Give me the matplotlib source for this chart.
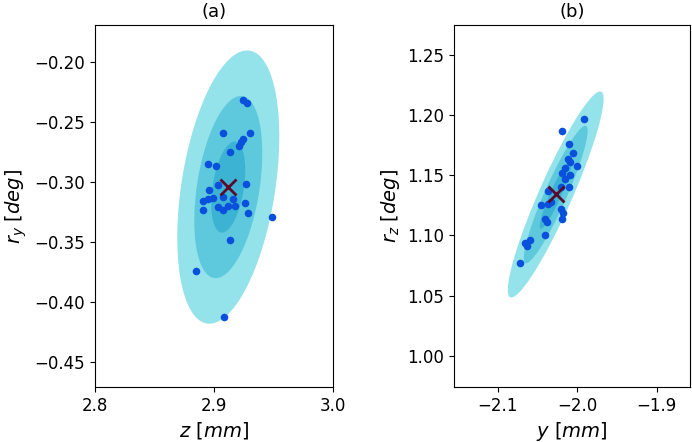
import numpy as np
import matplotlib
matplotlib.use("Agg")
import matplotlib.pyplot as plt
from matplotlib.patches import Ellipse

# Panel (a): z [mm] vs r_y [deg]
a_z = [2.9241, 2.9275, 2.9076, 2.9303, 2.9246, 2.9229, 2.9212, 2.9134, 2.8952, 2.9017,
       2.9036, 2.9267, 2.8958, 2.9078, 2.8994, 2.8952, 2.8905, 2.9163, 2.8910, 2.9034,
       2.9073, 2.9115, 2.9174, 2.9261, 2.9286, 2.9485, 2.9134, 2.8849, 2.9081]
a_ry = [-0.2319, -0.2343, -0.2588, -0.2592, -0.2642, -0.2669, -0.2697, -0.2747, -0.2850, -0.2869,
        -0.3022, -0.3019, -0.3069, -0.3125, -0.3130, -0.3142, -0.3158, -0.3144, -0.3236, -0.3211,
        -0.3236, -0.3203, -0.3200, -0.3178, -0.3256, -0.3288, -0.3486, -0.3742, -0.4128]
a_mean = (2.9120, -0.3042)
a_sigma = (0.01429, 0.0380)
a_rho = 0.37

# Panel (b): y [mm] vs r_z [deg]
b_y = [-1.9915, -2.0191, -2.0107, -2.0049, -2.0112, -2.0090, -1.9999, -2.0150, -2.0191, -2.0090,
       -2.0150, -2.0203, -2.0107, -2.0366, -2.0457, -2.0366, -2.0323, -2.0208, -2.0182, -2.0195,
       -2.0400, -2.0383, -2.0408, -2.0593, -2.0652, -2.0627, -2.0715]
b_rz = [1.1965, 1.1868, 1.1763, 1.1688, 1.1632, 1.1610, 1.1574, 1.1560, 1.1516, 1.1499,
        1.1466, 1.1402, 1.1399, 1.1366, 1.1257, 1.1265, 1.1276, 1.1216, 1.1188, 1.1133,
        1.1138, 1.1110, 1.1007, 1.0965, 1.0938, 1.0913, 1.0774]
b_mean = (-2.0270, 1.1341)
b_sigma = (0.0201, 0.02856)
b_rho = 0.925

levels = [3, 2, 1]
level_colors = ['#94e2ea', '#5ec8dc', '#3cb3d3']
point_color = '#0a50dc'
mean_color = '#5a0a2c'

fig = plt.figure(figsize=(6.92, 4.42), dpi=100)
axA = fig.add_axes([95/692, 1-387/442, 238/692, 362/442])
axB = fig.add_axes([454/692, 1-387/442, 236/692, 362/442])


def draw(ax, xs, ys, mean, sigma, rho):
    sx, sy = sigma
    cov = np.array([[sx*sx, rho*sx*sy], [rho*sx*sy, sy*sy]])
    vals, vecs = np.linalg.eigh(cov)
    order = vals.argsort()[::-1]
    vals, vecs = vals[order], vecs[:, order]
    ang = np.degrees(np.arctan2(vecs[1, 0], vecs[0, 0]))
    for n, c in zip(levels, level_colors):
        e = Ellipse(mean, 2*n*np.sqrt(vals[0]), 2*n*np.sqrt(vals[1]), angle=ang,
                    facecolor=c, edgecolor='none', zorder=1)
        ax.add_patch(e)
    ax.scatter(xs, ys, s=30, color=point_color, zorder=3, linewidths=0)
    ax.plot([mean[0]], [mean[1]], marker='x', color=mean_color, markersize=12,
            markeredgewidth=2, zorder=4, linestyle='none')


draw(axA, a_z, a_ry, a_mean, a_sigma, a_rho)
draw(axB, b_y, b_rz, b_mean, b_sigma, b_rho)

axA.set_xlim(2.8, 3.0)
axA.set_ylim(-0.471, -0.169)
axA.set_xticks([2.8, 2.9, 3.0])
axA.set_yticks([-0.20, -0.25, -0.30, -0.35, -0.40, -0.45])
axA.set_xticklabels(['2.8', '2.9', '3.0'])
axA.set_yticklabels(['\u22120.20', '\u22120.25', '\u22120.30', '\u22120.35', '\u22120.40', '\u22120.45'])
axA.set_xlabel('$z$ [$mm$]', fontsize=14)
axA.set_ylabel('$r_y$ [$deg$]', fontsize=14)
axA.set_title('(a)', fontsize=13)

axB.set_xlim(-2.155, -1.858)
axB.set_ylim(0.974, 1.275)
axB.set_xticks([-2.1, -2.0, -1.9])
axB.set_xticklabels(['\u22122.1', '\u22122.0', '\u22121.9'])
axB.set_yticks([1.00, 1.05, 1.10, 1.15, 1.20, 1.25])
axB.set_yticklabels(['1.00', '1.05', '1.10', '1.15', '1.20', '1.25'])
axB.set_xlabel('$y$ [$mm$]', fontsize=14)
axB.set_ylabel('$r_z$ [$deg$]', fontsize=14)
axB.set_title('(b)', fontsize=13)

for ax in (axA, axB):
    ax.tick_params(labelsize=12)

fig.savefig('out.png', dpi=100)
